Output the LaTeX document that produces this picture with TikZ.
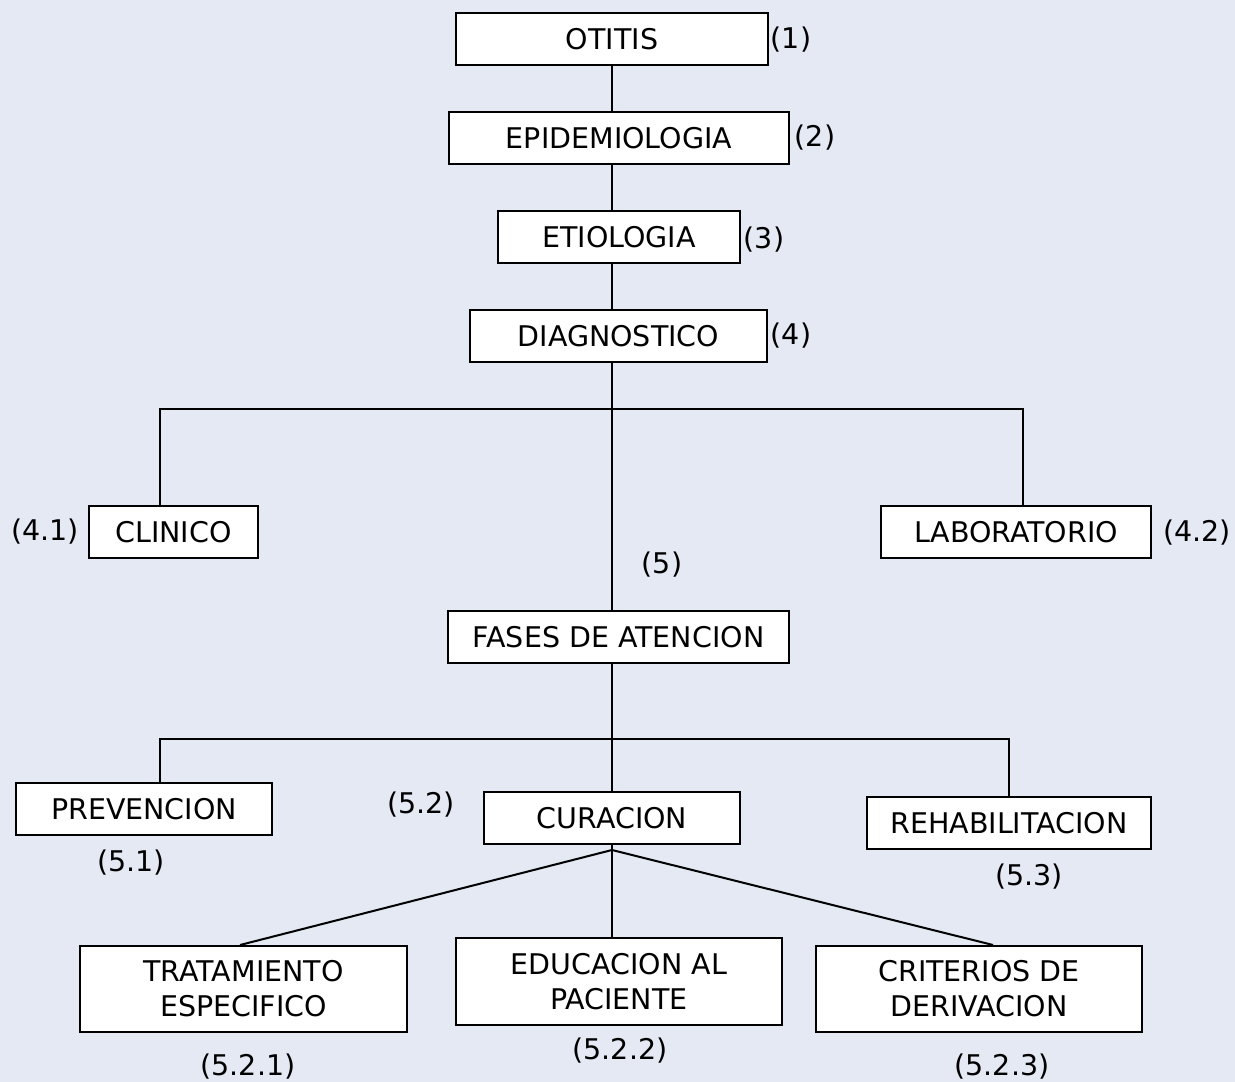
\documentclass[tikz,border=0pt]{standalone}
\usepackage{fontspec}
\setmainfont{DejaVu Sans}
\begin{document}
\begin{tikzpicture}[x=1pt,y=-1pt,
  box/.style={draw=black,fill=white,line width=2pt,inner sep=0pt,align=center,font=\fontsize{28.5}{35}\selectfont},
  tag/.style={inner sep=0pt,font=\fontsize{28.5}{34}\selectfont},
  link/.style={line width=2pt}]
\definecolor{bgcol}{HTML}{E4E9F4}
\fill[bgcol] (0,0) rectangle (1235,1082);
\useasboundingbox (0,0) rectangle (1235,1082);

% boxes: centre, width, height
\node[box,minimum width=312pt,minimum height=52pt] (otitis) at (612,39) {OTITIS};
\node[box,minimum width=340pt,minimum height=52pt] (epi) at (619,138) {EPIDEMIOLOGIA};
\node[box,minimum width=242pt,minimum height=52pt] (etio) at (619,237) {ETIOLOGIA};
\node[box,minimum width=297pt,minimum height=52pt] (diag) at (618.5,336) {DIAGNOSTICO};
\node[box,minimum width=169pt,minimum height=52pt] (clin) at (173.5,532) {CLINICO};
\node[box,minimum width=270pt,minimum height=52pt] (lab) at (1016,532) {LABORATORIO};
\node[box,minimum width=341pt,minimum height=52pt] (fases) at (618.5,637) {FASES DE ATENCION};
\node[box,minimum width=256pt,minimum height=52pt] (prev) at (144,809) {PREVENCION};
\node[box,minimum width=256pt,minimum height=52pt] (cura) at (612,818) {CURACION};
\node[box,minimum width=284pt,minimum height=52pt] (rehab) at (1009,823) {REHABILITACION};
\node[box,minimum width=327pt,minimum height=86pt] (trat) at (243.5,989) {TRATAMIENTO\\ESPECIFICO};
\node[box,minimum width=326pt,minimum height=87pt] (edu) at (619,981.5) {EDUCACION AL\\PACIENTE};
\node[box,minimum width=326pt,minimum height=86pt] (crit) at (979,989) {CRITERIOS DE\\DERIVACION};

% number tags
\node[tag] (t1) at (791,40) {(1)};
\node[tag] (t2) at (815,138) {(2)};
\node[tag] (t3) at (764,240) {(3)};
\node[tag] (t4) at (791,336) {(4)};
\node[tag] (t41) at (45,532) {(4.1)};
\node[tag] (t42) at (1197,533) {(4.2)};
\node[tag] (t5) at (662,565) {(5)};
\node[tag] (t51) at (131,863) {(5.1)};
\node[tag] (t52) at (421,805) {(5.2)};
\node[tag] (t53) at (1029,877) {(5.3)};
\node[tag] (t521) at (248,1067) {(5.2.1)};
\node[tag] (t522) at (620,1051) {(5.2.2)};
\node[tag] (t523) at (1002,1067) {(5.2.3)};

% branch points
\coordinate (jd) at (612,409);
\coordinate (jf) at (612,739);
\coordinate (apex) at (612,850);

% connectors
\draw[link] (otitis.south -| 612,0) -- (epi.north -| 612,0);
\draw[link] (epi.south -| 612,0) -- (etio.north -| 612,0);
\draw[link] (etio.south -| 612,0) -- (diag.north -| 612,0);
\draw[link] (diag.south -| 612,0) -- (fases.north -| 612,0);
\draw[link] (clin.north -| 160,0) -- (160,409) -- (1023,409) -- (lab.north -| 1023,0);
\draw[link] (fases.south -| 612,0) -- (cura.north -| 612,0);
\draw[link] (prev.north -| 160,0) -- (160,739) -- (1009,739) -- (rehab.north -| 1009,0);
\draw[link] (cura.south -| 612,0) -- (apex);
\draw[link] (apex) -- (trat.north -| 240,0);
\draw[link] (apex) -- (edu.north -| 612,0);
\draw[link] (apex) -- (crit.north -| 993,0);
\end{tikzpicture}
\end{document}
